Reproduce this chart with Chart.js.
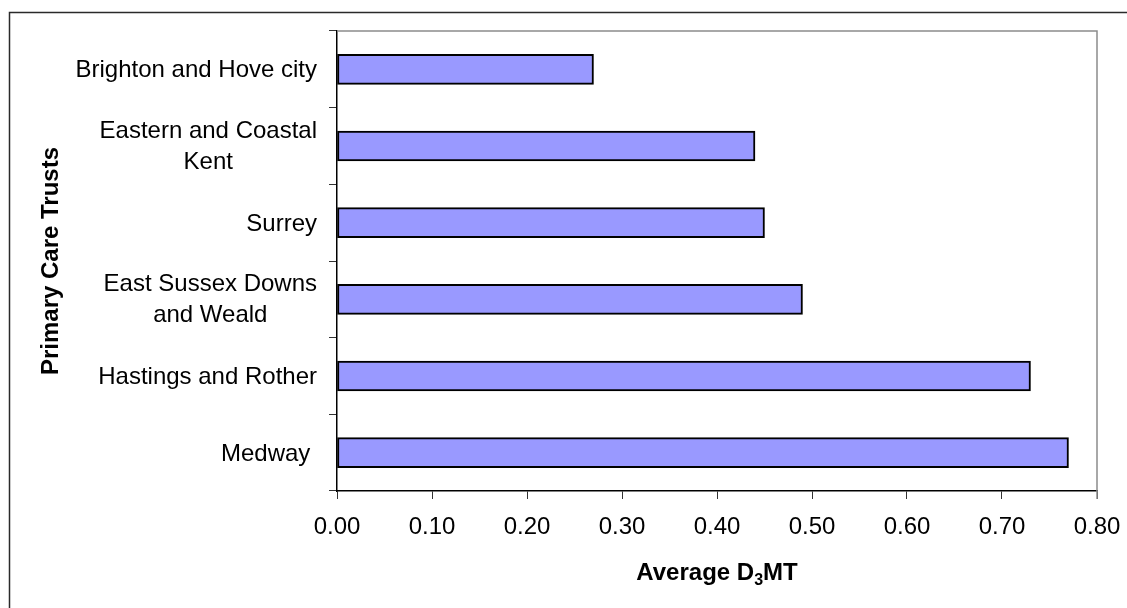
<!DOCTYPE html>
<html>
<head>
<meta charset="utf-8">
<script src="https://cdn.jsdelivr.net/npm/chart.js@4"></script>
<style>
  html, body { margin: 0; padding: 0; background: #ffffff; }
  canvas { display: block; }
</style>
</head>
<body>
<canvas id="chart" width="1127" height="608"></canvas>
<script>
// Primary Care Trusts (multi-line entries are drawn as stacked, centred lines)
const trusts = [
  'Brighton and Hove city',
  ['Eastern and Coastal', 'Kent'],
  'Surrey',
  ['East Sussex Downs', 'and Weald'],
  'Hastings and Rother',
  'Medway '
];
// Average D3MT per trust
const averageD3MT = [0.27, 0.44, 0.45, 0.49, 0.73, 0.77];
// Value axis range and step
const axisMin = 0;
const axisMax = 0.8;
const axisStep = 0.1;

const FONT = '"Liberation Sans", Arial, sans-serif';

// Frame around the figure and the grey top/right edges of the plot area
const framePlugin = {
  id: 'frame',
  beforeDraw(chart) {
    const ctx = chart.ctx;
    ctx.save();
    ctx.fillStyle = '#ffffff';
    ctx.fillRect(0, 0, chart.width, chart.height);
    ctx.strokeStyle = '#2a2a2a';
    ctx.lineWidth = 1.5;
    ctx.beginPath();
    ctx.moveTo(9.5, chart.height + 2);
    ctx.lineTo(9.5, 12.5);
    ctx.lineTo(chart.width + 2, 12.5);
    ctx.stroke();
    ctx.restore();
  },
  afterDatasetsDraw(chart) {
    const {ctx, chartArea} = chart;
    ctx.save();
    ctx.strokeStyle = '#8c8c8c';
    ctx.lineWidth = 1.5;
    ctx.beginPath();
    ctx.moveTo(chartArea.left, chartArea.top);
    ctx.lineTo(chartArea.right, chartArea.top);
    ctx.lineTo(chartArea.right, chartArea.bottom + 8);
    ctx.stroke();
    ctx.restore();
  }
};

// Category labels (right-aligned blocks, lines centred inside a block) and axis titles
const labelsPlugin = {
  id: 'axisText',
  afterDraw(chart) {
    const {ctx, chartArea} = chart;
    const ys = chart.scales.y;
    ctx.save();
    ctx.fillStyle = '#000000';
    ctx.font = '24px ' + FONT;
    ctx.textBaseline = 'alphabetic';
    const rightEdge = ys.right - 20;
    const lineH = 31;
    ys.getLabels().forEach((lab, i) => {
      const lines = Array.isArray(lab) ? lab : [lab];
      const cy = ys.getPixelForValue(i);
      const widths = lines.map(l => ctx.measureText(l).width);
      const blockW = Math.max(...widths);
      const cx = rightEdge - blockW / 2;
      ctx.textAlign = 'center';
      lines.forEach((l, k) => {
        const by = cy + 8 + (k - (lines.length - 1) / 2) * lineH - (lines.length > 1 ? 1 : 0);
        ctx.fillText(l, cx, by);
      });
    });

    // Value axis title with subscript digit
    const boldFont = 'bold 24px ' + FONT;
    const subFont = 'bold 16px ' + FONT;
    const parts = [
      {t: 'Average D', f: boldFont, dy: 0},
      {t: '3', f: subFont, dy: 5},
      {t: 'MT', f: boldFont, dy: 0}
    ];
    let total = 0;
    parts.forEach(p => { ctx.font = p.f; p.w = ctx.measureText(p.t).width; total += p.w; });
    let x = (chartArea.left + chartArea.right) / 2 - total / 2;
    const baseY = 580;
    ctx.textAlign = 'left';
    parts.forEach(p => {
      ctx.font = p.f;
      ctx.fillText(p.t, x, baseY + p.dy);
      x += p.w;
    });

    // Category axis title, rotated
    ctx.font = boldFont;
    ctx.translate(58, (chartArea.top + chartArea.bottom) / 2);
    ctx.rotate(-Math.PI / 2);
    ctx.textAlign = 'center';
    ctx.fillText('Primary Care Trusts', 0, 0);
    ctx.restore();
  }
};

new Chart(document.getElementById('chart'), {
  type: 'bar',
  data: {
    labels: trusts,
    datasets: [{
      data: averageD3MT,
      backgroundColor: '#9999ff',
      borderColor: '#000000',
      borderWidth: 2,
      barThickness: 30,
      borderSkipped: false
    }]
  },
  options: {
    indexAxis: 'y',
    responsive: false,
    animation: false,
    devicePixelRatio: 1,
    layout: { padding: { top: 31, right: 30, bottom: 0, left: 0 } },
    plugins: {
      legend: { display: false },
      tooltip: { enabled: false },
      title: { display: false }
    },
    scales: {
      x: {
        type: 'linear',
        min: axisMin,
        max: axisMax,
        afterFit(scale) {
          scale.height = 117;
          scale.paddingLeft = 0;
          scale.paddingRight = 0;
        },
        ticks: {
          stepSize: axisStep,
          color: '#000000',
          padding: 14,
          font: { family: FONT, size: 24 },
          callback: v => Number(v).toFixed(2)
        },
        grid: {
          drawOnChartArea: false,
          drawTicks: true,
          tickLength: 8,
          color: '#333333',
          lineWidth: 1
        },
        border: { display: true, color: '#000000', width: 1.5 }
      },
      y: {
        type: 'category',
        afterFit(scale) { scale.width = 337; },
        ticks: { display: false },
        grid: {
          offset: true,
          drawOnChartArea: false,
          drawTicks: true,
          tickLength: 8,
          color: '#333333',
          lineWidth: 1
        },
        border: { display: true, color: '#000000', width: 1.5 }
      }
    }
  },
  plugins: [framePlugin, labelsPlugin]
});
</script>
</body>
</html>
